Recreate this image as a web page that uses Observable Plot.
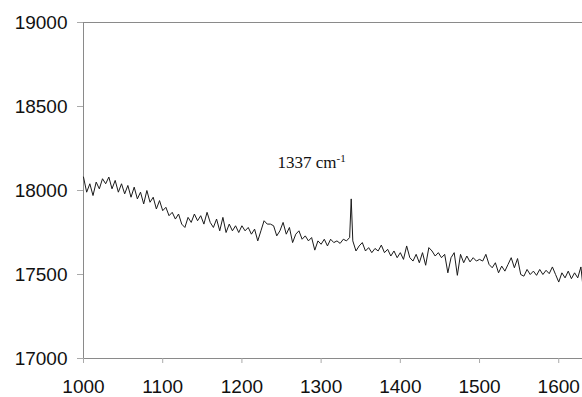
<!DOCTYPE html>
<html><head><meta charset="utf-8">
<script src="https://cdn.jsdelivr.net/npm/d3@7"></script>
<script src="https://cdn.jsdelivr.net/npm/@observablehq/plot@0.6"></script>
<style>body{margin:0;background:#fff} svg{display:block}</style>
</head><body><div id="chart"></div>
<script>
const wavenumber = [1000,1004,1008,1012,1016,1020,1024,1028,1032,1036,1040,1044,1048,1052,1056,1060,1064,1068,1072,1076,1080,1084,1088,1092,1096,1100,1104,1108,1112,1116,1120,1124,1128,1132,1136,1140,1144,1148,1152,1156,1160,1164,1168,1172,1176,1180,1184,1188,1192,1196,1200,1204,1208,1212,1216,1220,1224,1228,1232,1236,1240,1244,1248,1252,1256,1260,1264,1268,1272,1276,1280,1284,1288,1292,1296,1300,1304,1308,1312,1316,1320,1324,1328,1332,1336,1338,1340,1344,1348,1352,1356,1360,1364,1368,1372,1376,1380,1384,1388,1392,1396,1400,1404,1408,1412,1416,1420,1424,1428,1432,1436,1440,1444,1448,1452,1456,1460,1464,1468,1472,1476,1480,1484,1488,1492,1496,1500,1504,1508,1512,1516,1520,1524,1528,1532,1536,1540,1544,1548,1552,1556,1560,1564,1568,1572,1576,1580,1584,1588,1592,1596,1600,1604,1608,1612,1616,1620,1624,1628,1630];
const intensity = [18080,17990,18040,17970,18050,18010,18070,18040,18080,18010,18060,17990,18040,17980,18030,17960,18020,17950,17990,17920,18000,17930,17960,17890,17940,17880,17900,17850,17870,17830,17860,17800,17780,17840,17810,17860,17820,17850,17800,17870,17810,17780,17830,17760,17840,17750,17800,17760,17790,17750,17790,17760,17780,17740,17770,17700,17760,17820,17800,17800,17790,17730,17760,17810,17740,17780,17690,17740,17760,17710,17730,17700,17720,17645,17700,17680,17710,17670,17710,17690,17700,17685,17710,17700,17720,17950,17700,17640,17670,17690,17640,17660,17630,17655,17640,17675,17630,17650,17610,17640,17600,17630,17590,17670,17600,17580,17620,17570,17630,17555,17660,17640,17610,17630,17600,17620,17510,17600,17630,17495,17620,17570,17610,17575,17600,17580,17590,17580,17620,17560,17540,17570,17510,17550,17520,17560,17600,17540,17595,17500,17490,17530,17500,17520,17495,17530,17500,17525,17505,17545,17500,17455,17510,17480,17520,17475,17510,17480,17545,17455];
const xTicks = [1000,1100,1200,1300,1400,1500,1600];
const yTicks = [17000,17500,18000,18500,19000];
const peakText = "1337 cm";
const peakSup = "-1";

const data = wavenumber.map((w, i) => ({w, v: intensity[i]}));
const sans = "'Liberation Sans', Arial, sans-serif";
const serif = "'Liberation Serif', 'Times New Roman', serif";

const chart = Plot.plot({
  width: 582, height: 397,
  marginLeft: 83, marginRight: 0, marginTop: 22, marginBottom: 39,
  style: {fontFamily: sans, fontSize: "19px", color: "#111", background: "#fff", overflow: "visible"},
  x: {domain: [1000, 1630]},
  y: {domain: [17000, 19000]},
  marks: [
    Plot.ruleX([1000], {stroke: "#8a8a8a"}),
    Plot.ruleY([17000, 19000], {stroke: "#8a8a8a"}),
    Plot.axisX({ticks: xTicks, tickSize: 5, tickPadding: 16, tickFormat: d3.format("d"), label: null, stroke: "#aaa", fill: "#111"}),
    Plot.axisY({ticks: yTicks, tickSize: 6, tickPadding: 10, tickFormat: d3.format("d"), label: null, stroke: "#aaa", fill: "#111"}),
    Plot.line(data, {x: "w", y: "v", stroke: "#1a1a1a", strokeWidth: 1}),
    Plot.text([peakText], {x: () => 1245, y: () => 18131, text: d => d, textAnchor: "start", lineAnchor: "bottom", fontFamily: serif, fontSize: 17, fill: "#111"})
  ]
});
document.getElementById("chart").appendChild(chart);
d3.select(chart).selectAll("text").filter(function() { return this.textContent === peakText; })
  .append("tspan").attr("dy", "-0.55em").attr("font-size", 11).text(peakSup);
</script>
</body></html>
